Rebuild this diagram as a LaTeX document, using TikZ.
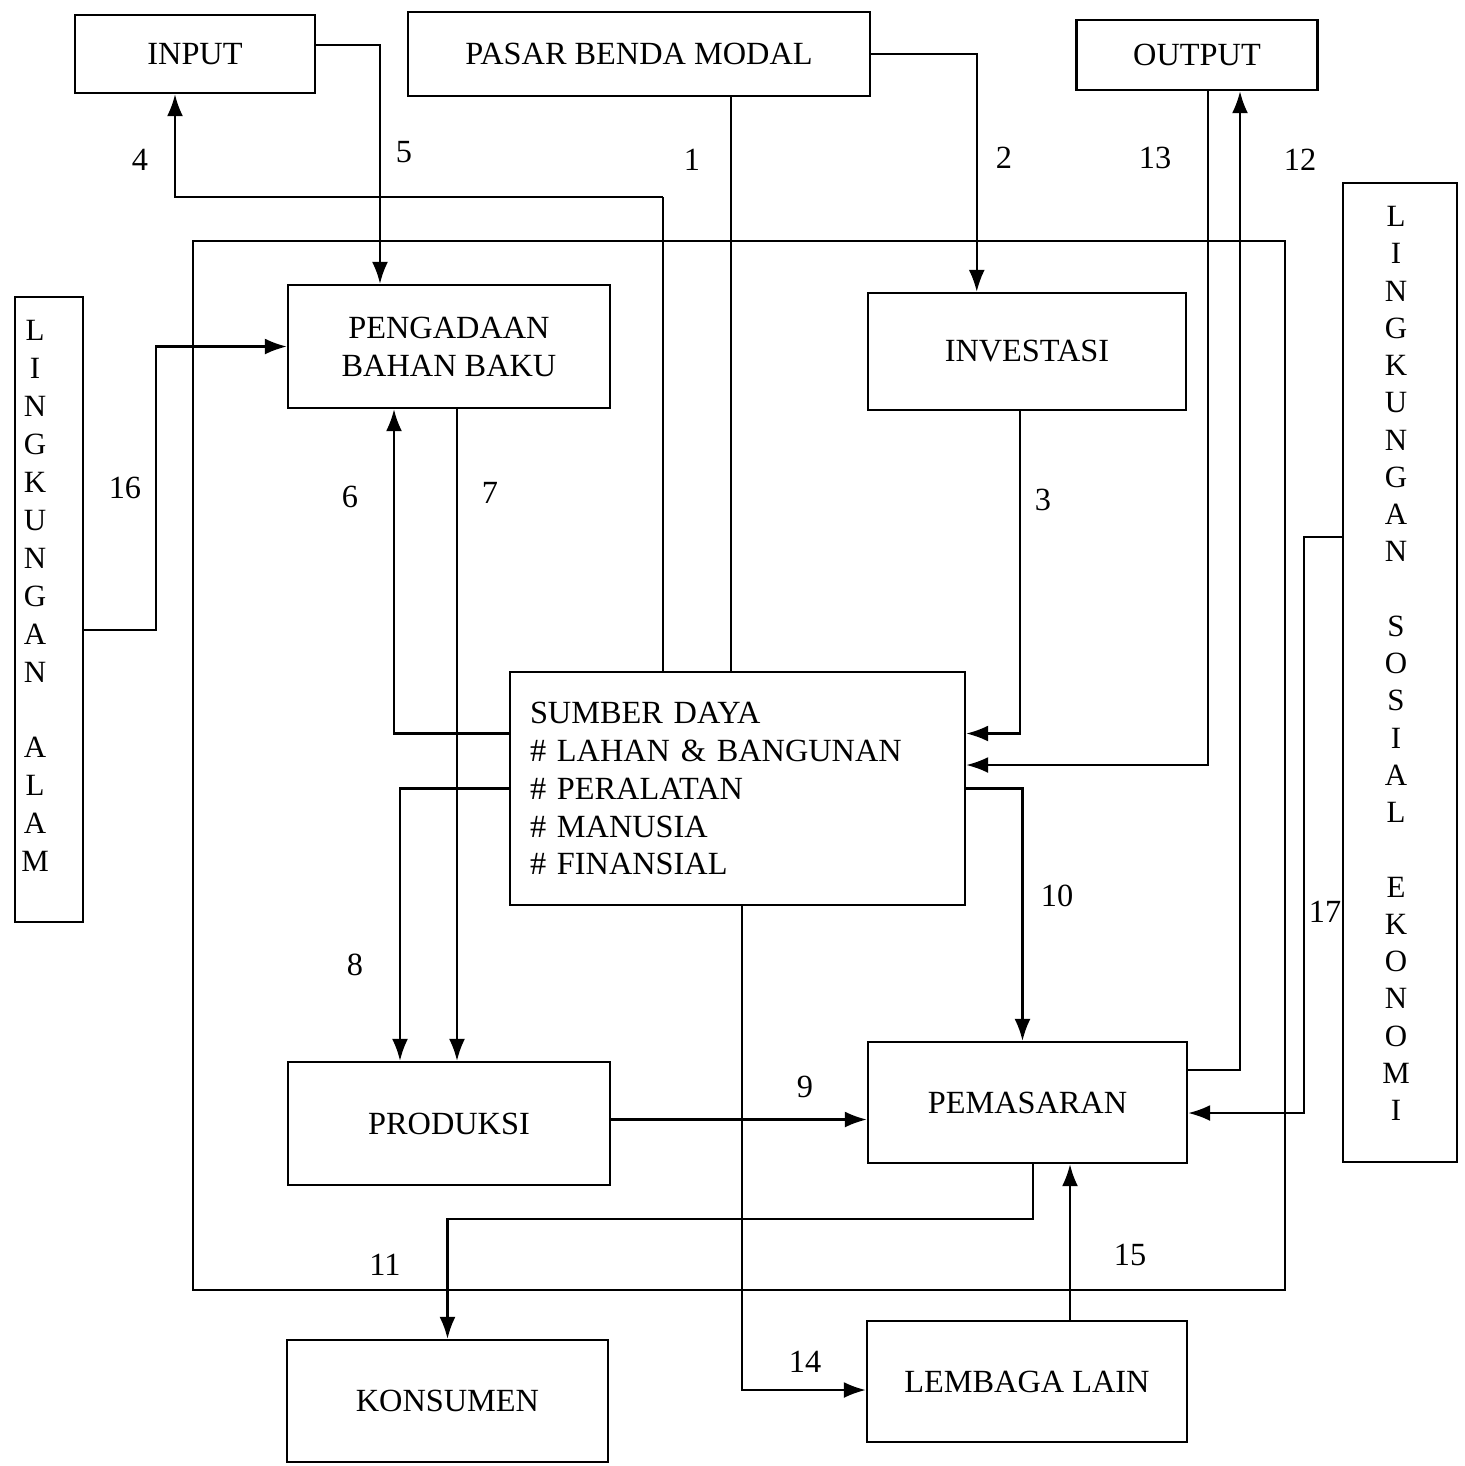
\documentclass[tikz,border=0pt]{standalone}
\usepackage{fontspec}
\setmainfont{Liberation Serif}
\usepackage{tikz}
\usetikzlibrary{arrows.meta}
\usetikzlibrary{calc}

\begin{document}
\begin{tikzpicture}[x=1mm,y=-1mm,
	box/.style={draw,line width=0.7pt,rectangle,align=center,inner sep=0pt,font=\fontsize{9.2}{10.8}\selectfont},
	num/.style={inner sep=0pt,font=\fontsize{9.2}{11}\selectfont},
	letters/.style={align=center,inner sep=0pt,font=\fontsize{8.8}{10.8}\selectfont},
	ln/.style={line width=0.6pt},
	arr/.style={line width=0.6pt,-{Latex[length=2.2mm,width=1.6mm]}}]
				\useasboundingbox (0,0) rectangle (146.5,146.6);
				% boxes
				\node[box,minimum width=24mm,minimum height=7.8mm] (INPUT) at (19.5,5.4) {INPUT};
				\node[box,minimum width=46.2mm,minimum height=8.4mm] (PASAR_MODAL) at (63.9,5.4) {PASAR BENDA MODAL};
				\node[box,minimum width=24.1mm,minimum height=7mm] (OUTPUT) at (119.7,5.5) {OUTPUT};
				\node[box,minimum width=32.2mm,minimum height=12.3mm] (PENGADAAN) at (44.9,34.65) {PENGADAAN\\BAHAN BAKU};
				\node[box,minimum width=31.8mm,minimum height=11.7mm] (INVESTASI) at (102.7,35.15) {INVESTASI};
				\node[box,minimum width=45.5mm,minimum height=23.3mm,text width=41.5mm,align=left] (SUMBER_DAYA) at (73.75,78.85) {SUMBER DAYA\\\# LAHAN \& BANGUNAN\\\# PERALATAN\\\# MANUSIA\\\# FINANSIAL};
				\node[box,minimum width=32.2mm,minimum height=12.3mm] (PRODUKSI) at (44.9,112.35) {PRODUKSI};
				\node[box,minimum width=31.9mm,minimum height=12.1mm] (PEMASARAN) at (102.75,110.25) {PEMASARAN};
				\node[box,minimum width=32.1mm,minimum height=12.2mm] (KONSUMEN) at (44.75,140.1) {KONSUMEN};
				\node[box,minimum width=32mm,minimum height=12.1mm] (LEMBAGA_LAIN) at (102.7,138.15) {LEMBAGA LAIN};
				\node[box,minimum width=6.8mm,minimum height=62.5mm] (ALAM) at (4.9,60.95) {};
				\node[letters] (ALAM_TEXT) at (3.5,59.6) {L\\I\\N\\G\\K\\U\\N\\G\\A\\N\\[10.8pt]A\\L\\A\\M};
				\node[box,minimum width=11.4mm,minimum height=97.9mm] (SOSIAL_EKONOMI) at (140,67.25) {};
				\node[letters,font=\fontsize{8.8}{10.6}\selectfont] (SOSIAL_TEXT) at (139.6,66.35) {L\\I\\N\\G\\K\\U\\N\\G\\A\\N\\[10.6pt]S\\O\\S\\I\\A\\L\\[10.6pt]E\\K\\O\\N\\O\\M\\I};
				% firm boundary
				\draw[ln] (19.3,24.1) rectangle (128.5,129);
				% flows
				\draw[ln] ([xshift=9.2mm]PASAR_MODAL.south) coordinate (c1) -- (c1 |- SUMBER_DAYA.north);
				\draw[arr] (PASAR_MODAL.east) -| ([xshift=11mm]INVESTASI.north west);
				\draw[arr] ([xshift=-0.7mm]INVESTASI.south) |- ([yshift=5.5mm]SUMBER_DAYA.east);
				\coordinate (c4) at (66.3,19.7);
				\draw[ln] (SUMBER_DAYA.north -| c4) -- (c4);
				\draw[arr] (c4) -| ([xshift=-2mm]INPUT.south);
				\draw[arr] ([yshift=0.9mm]INPUT.east) -| ([xshift=-6.9mm]PENGADAAN.north);
				\draw[arr] ([yshift=5.5mm]SUMBER_DAYA.west) -| ([xshift=-5.5mm]PENGADAAN.south);
				\draw[arr] ([xshift=0.8mm]PENGADAAN.south) -- ([xshift=0.8mm]PRODUKSI.north);
				\draw[arr] (SUMBER_DAYA.west) -| ([xshift=-4.9mm]PRODUKSI.north);
				\draw[arr] ([yshift=0.4mm]PRODUKSI.east) coordinate (c9) -- (c9 -| PEMASARAN.west);
				\draw[arr] (SUMBER_DAYA.east) -| ([xshift=-0.5mm]PEMASARAN.north);
				\draw[arr] ([xshift=0.55mm]PEMASARAN.south) -- ++(0,5.5) -| (KONSUMEN.north);
				\draw[arr] ([yshift=3.25mm]PEMASARAN.east) -| ([xshift=4.3mm]OUTPUT.south);
				\draw[arr] ([xshift=1.1mm]OUTPUT.south) |- ([yshift=2.35mm]SUMBER_DAYA.east);
				\draw[arr] ([xshift=0.45mm]SUMBER_DAYA.south) |- ([yshift=-0.85mm]LEMBAGA_LAIN.west);
				\draw[arr] ([xshift=4.3mm]LEMBAGA_LAIN.north) coordinate (c15) -- (c15 |- PEMASARAN.south);
				\draw[arr] ([yshift=-2.05mm]ALAM.east) -- ++(7.2,0) |- (PENGADAAN.west);
				\draw[arr] ([yshift=13.55mm]SOSIAL_EKONOMI.west) -- ++(-3.8,0) |- ([yshift=-1.05mm]PEMASARAN.east);
				% flow numbers
				\node[num] (N1) at (69.2,16) {1};
				\node[num] (N2) at (100.4,15.8) {2};
				\node[num] (N3) at (104.3,50) {3};
				\node[num] (N4) at (14,16) {4};
				\node[num] (N5) at (40.4,15.2) {5};
				\node[num] (N6) at (35,49.7) {6};
				\node[num] (N7) at (49,49.3) {7};
				\node[num] (N8) at (35.5,96.5) {8};
				\node[num] (N9) at (80.5,108.7) {9};
				\node[num] (N10) at (105.7,89.6) {10};
				\node[num] (N11) at (38.5,126.5) {11};
				\node[num] (N12) at (130,16) {12};
				\node[num] (N13) at (115.5,15.8) {13};
				\node[num] (N14) at (80.5,136.2) {14};
				\node[num] (N15) at (113,125.5) {15};
				\node[num] (N16) at (12.5,48.8) {16};
				\node[num] (N17) at (132.5,91.2) {17};
			\end{tikzpicture}
\end{document}
